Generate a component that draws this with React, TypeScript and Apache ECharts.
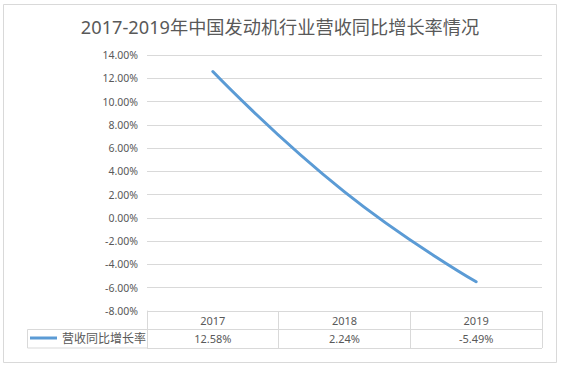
import React, { useEffect, useRef } from "react";
import * as echarts from "echarts";

// Revenue growth (year over year) of China's engine industry
const years = ["2017", "2018", "2019"];
const growthRates = [12.58, 2.24, -5.49];
const seriesName = "营收同比增长率";
const titleText = "2017-2019年中国发动机行业营收同比增长率情况";
const yMin = -8;
const yMax = 14;
const yStep = 2;

const FONT = "'Noto Sans', 'Noto Sans CJK SC', sans-serif";
const TEXT = "#595959";
const GRID = "#d9d9d9";
const LINE = "#5B9BD5";

export default function App() {
  const ref = useRef<HTMLDivElement>(null);

  useEffect(() => {
    if (!ref.current) return;
    const chart = echarts.init(ref.current, undefined, { renderer: "svg" });

    chart.setOption({
      animation: false,
      backgroundColor: "#ffffff",
      textStyle: { fontFamily: FONT },
      title: {
        text: titleText,
        left: 275,
        textAlign: "center",
        top: 13,
        textStyle: { fontSize: 18.2, fontWeight: "normal", color: TEXT, fontFamily: FONT },
      },
      legend: {
        data: [{ name: seriesName, icon: "rect" }],
        left: 30,
        top: 332,
        padding: 0,
        itemWidth: 27,
        itemHeight: 3,
        itemGap: 5,
        textStyle: { fontSize: 12, color: TEXT, fontFamily: FONT },
      },
      grid: [
        { left: 147, right: 21, top: 55, bottom: 57 },
        { left: 147, right: 21, top: 311, height: 37 },
      ],
      xAxis: [
        {
          type: "category",
          gridIndex: 0,
          data: years,
          boundaryGap: true,
          axisLine: { show: false },
          axisTick: { show: false },
          axisLabel: { show: false },
          splitLine: { show: false },
        },
        {
          type: "category",
          gridIndex: 1,
          data: years,
          boundaryGap: true,
          axisLine: { show: false },
          axisTick: { show: false },
          axisLabel: { show: false },
          splitLine: { show: true, lineStyle: { color: GRID, width: 1 } },
        },
      ],
      yAxis: [
        {
          type: "value",
          gridIndex: 0,
          min: yMin,
          max: yMax,
          interval: yStep,
          axisLine: { show: false },
          axisTick: { show: false },
          axisLabel: {
            margin: 9,
            fontSize: 10.5,
            color: TEXT,
            fontFamily: FONT,
            formatter: (v: number) => v.toFixed(2) + "%",
          },
          splitLine: { show: true, lineStyle: { color: GRID, width: 1 } },
        },
        {
          type: "value",
          gridIndex: 1,
          min: 0,
          max: 2,
          interval: 1,
          axisLine: { show: true, lineStyle: { color: GRID, width: 1 } },
          axisTick: { show: false },
          axisLabel: { show: false },
          splitLine: { show: true, lineStyle: { color: GRID, width: 1 } },
        },
      ],
      graphic: [
        {
          type: "rect",
          shape: { x: 3.5, y: 4.5, width: 553, height: 358 },
          style: { fill: "none", stroke: GRID, lineWidth: 1 },
          silent: true,
        },
        {
          type: "rect",
          shape: { x: 27.5, y: 329.5, width: 120, height: 18.5 },
          style: { fill: "none", stroke: GRID, lineWidth: 1 },
          silent: true,
        },
      ],
      series: [
        {
          name: seriesName,
          type: "line",
          xAxisIndex: 0,
          yAxisIndex: 0,
          data: growthRates,
          smooth: 0.5,
          symbol: "none",
          lineStyle: { color: LINE, width: 3, cap: "round" },
          itemStyle: { color: LINE },
        },
        {
          // data table cells: year row on top, value row below
          name: "table",
          type: "custom",
          xAxisIndex: 1,
          yAxisIndex: 1,
          data: years.map((y, i) => [i, growthRates[i]]),
          renderItem: (params: any, api: any) => {
            const idx = api.value(0);
            const top = api.coord([idx, 1.5]);
            const bottom = api.coord([idx, 0.5]);
            const v = growthRates[params.dataIndex];
            return {
              type: "group",
              children: [
                {
                  type: "text",
                  style: {
                    x: top[0],
                    y: top[1],
                    text: years[params.dataIndex],
                    align: "center",
                    verticalAlign: "middle",
                    fontSize: 11,
                    fontFamily: FONT,
                    fill: TEXT,
                  },
                },
                {
                  type: "text",
                  style: {
                    x: bottom[0],
                    y: bottom[1],
                    text: v.toFixed(2) + "%",
                    align: "center",
                    verticalAlign: "middle",
                    fontSize: 11,
                    fontFamily: FONT,
                    fill: TEXT,
                  },
                },
              ],
            };
          },
          silent: true,
        },
      ],
    });

    return () => chart.dispose();
  }, []);

  return (
    <div
      ref={ref}
      style={{ position: "fixed", left: 0, top: 0, width: 563, height: 368 }}
    />
  );
}
